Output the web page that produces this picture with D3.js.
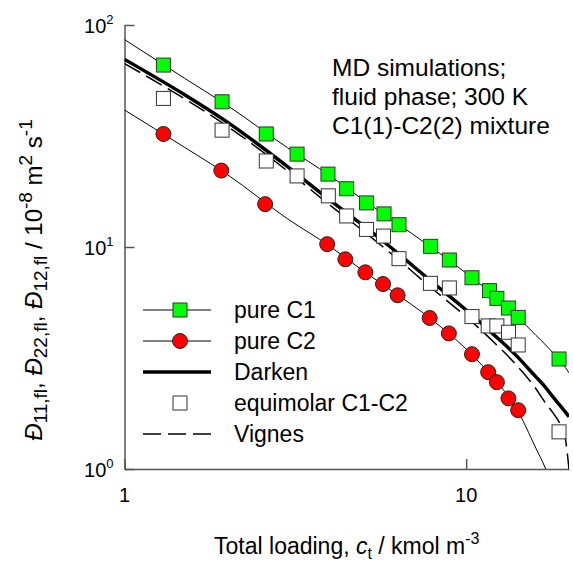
<!DOCTYPE html>
<html>
<head>
<meta charset="utf-8">
<script src="https://cdn.jsdelivr.net/npm/d3@7"></script>
<style>
  body { margin: 0; background: #fff; }
  text { font-family: 'Liberation Sans', Arial, sans-serif; fill: #000; }
</style>
</head>
<body>
<div id="chart"></div>
<script>
// MD data
var loadingC1 = [1.3, 1.93, 2.6, 3.2, 3.94, 4.47, 5.11, 5.75, 6.36, 7.87, 8.93, 10.4, 11.7, 12.3, 13.3, 14.2, 18.7];
var pureC1 = [66, 45.1, 32.3, 26.2, 21.3, 18.3, 15.8, 14.1, 12.6, 10.07, 8.74, 7.27, 6.36, 5.87, 5.31, 4.82, 3.13];

var loadingC2 = [1.3, 1.92, 2.58, 3.92, 4.43, 5.07, 5.71, 6.3, 7.82, 8.9, 10.4, 11.6, 12.3, 13.3, 14.2];
var pureC2 = [32.3, 22.1, 15.6, 10.3, 8.8, 7.69, 6.81, 6.06, 4.79, 4.08, 3.29, 2.73, 2.46, 2.08, 1.84];

var loadingMix = [1.3, 1.93, 2.6, 3.2, 3.95, 4.47, 5.11, 5.73, 6.36, 7.86, 8.93, 10.4, 11.6, 12.3, 13.3, 14.2, 18.7];
var equimolar = [46.7, 33.6, 24.4, 20.9, 17.0, 13.8, 12.0, 11.2, 8.86, 6.86, 6.54, 4.86, 4.41, 4.41, 4.13, 3.62, 1.47];

// Model curves, sampled off the figure
var curveLoading = [1, 1.5, 2, 3, 4, 5, 6, 8, 10, 12, 14, 16, 17, 18, 19, 19.5, 20];
var fitC1 = [86, 57.5, 43.4, 28, 20.9, 16.3, 13.4, 9.85, 7.62, 6.1, 4.93, 4.0, 3.65, 3.32, 3.02, 2.87, 2.71];
var fitC2 = [41.4, 28.1, 21.2, 13.4, 10.05, 7.8, 6.42, 4.66, 3.47, 2.57, 1.89, 1.24, 1.02, 0.8, 0.6, 0.5, 0.4];
var darken = [70, 48.5, 36.5, 23, 16.2, 12.5, 10, 6.9, 5.2, 4.05, 3.25, 2.6, 2.35, 2.1, 1.9, 1.81, 1.72];
var vignes = [67, 46.5, 35, 22, 15.4, 11.8, 9.4, 6.45, 4.85, 3.75, 2.95, 2.3, 2.0, 1.78, 1.55, 1.38, 1.0];

var xTicks = [1, 10];
var yTicks = [1, 10, 100];

var width = 573,
  height = 573;

var margin = { top: 25, right: 4, bottom: 104, left: 124.5 };

var svg = d3.select('#chart')
  .append('svg')
  .attr('width', width)
  .attr('height', height);

var xScale = d3.scaleLog()
  .domain([1, 20])
  .range([margin.left, width - margin.right]);

var yScale = d3.scaleLog()
  .domain([1, 100])
  .range([height - margin.bottom, margin.top]);

var axisColor = '#555';

// minor ticks: every integer inside each decade
var xMinor = [2, 3, 4, 5, 6, 7, 8, 9, 20];
var yMinor = [];
[1, 10].forEach(function(dec) {
  for (var k = 2; k <= 9; k++) yMinor.push(dec * k);
});

var gx = svg.append('g')
  .attr('transform', 'translate(0,' + (height - margin.bottom) + ')');
gx.call(d3.axisBottom(xScale).tickValues(xMinor).tickSize(-7).tickSizeOuter(0).tickFormat(''));
gx.call(d3.axisBottom(xScale).tickValues(xTicks).tickSize(-10).tickSizeOuter(0).tickFormat(''));
gx.selectAll('path, line').attr('stroke', axisColor).attr('stroke-width', 1.5);

gx.selectAll('.xlab')
  .data(xTicks)
  .enter()
  .append('text')
  .attr('x', function(d) { return xScale(d); })
  .attr('y', 33)
  .attr('text-anchor', 'middle')
  .style('font-size', '20px')
  .text(function(d) { return d; });

var gy = svg.append('g')
  .attr('transform', 'translate(' + margin.left + ',0)');
gy.call(d3.axisLeft(yScale).tickValues(yMinor).tickSize(-8).tickSizeOuter(0).tickFormat(''));
gy.call(d3.axisLeft(yScale).tickValues(yTicks).tickSize(-10).tickSizeOuter(0).tickFormat(''));
gy.selectAll('path, line').attr('stroke', axisColor).attr('stroke-width', 1.5);

var ylab = gy.selectAll('.ylab')
  .data(yTicks)
  .enter()
  .append('text')
  .attr('x', -11)
  .attr('y', function(d) { return yScale(d) + 8; })
  .attr('text-anchor', 'end')
  .style('font-size', '20px');
ylab.append('tspan').text('10');
ylab.append('tspan')
  .attr('dy', -9)
  .style('font-size', '13px')
  .text(function(d) { return Math.round(Math.log10(d)); });

// clip the curves to the plot area
svg.append('clipPath')
  .attr('id', 'plot')
  .append('rect')
  .attr('x', margin.left)
  .attr('y', margin.top)
  .attr('width', width - margin.left - margin.right)
  .attr('height', height - margin.top - margin.bottom);

var plot = svg.append('g').attr('clip-path', 'url(#plot)');

var line = d3.line()
  .x(function(d) { return xScale(d[0]); })
  .y(function(d) { return yScale(d[1]); })
  .curve(d3.curveMonotoneX);

function pairs(xs, ys) {
  return xs.map(function(v, i) { return [v, ys[i]]; });
}

var curves = [
  { values: fitC1, width: 1, dash: null },
  { values: fitC2, width: 1, dash: null },
  { values: darken, width: 3.5, dash: null },
  { values: vignes, width: 1.5, dash: '18,7' }
];

plot.selectAll('.curve')
  .data(curves)
  .enter()
  .append('path')
  .attr('fill', 'none')
  .attr('stroke', '#000')
  .attr('stroke-width', function(d) { return d.width; })
  .attr('stroke-dasharray', function(d) { return d.dash; })
  .attr('d', function(d) { return line(pairs(curveLoading, d.values)); });

var side = 14;

// equimolar squares
svg.append('g').selectAll('rect')
  .data(pairs(loadingMix, equimolar))
  .enter()
  .append('rect')
  .attr('x', function(d) { return xScale(d[0]) - side / 2; })
  .attr('y', function(d) { return yScale(d[1]) - side / 2; })
  .attr('width', side)
  .attr('height', side)
  .attr('fill', '#fff')
  .attr('stroke', '#333')
  .attr('stroke-width', 1);

// pure C1 squares
svg.append('g').selectAll('rect')
  .data(pairs(loadingC1, pureC1))
  .enter()
  .append('rect')
  .attr('x', function(d) { return xScale(d[0]) - side / 2; })
  .attr('y', function(d) { return yScale(d[1]) - side / 2; })
  .attr('width', side)
  .attr('height', side)
  .attr('fill', '#00ff00')
  .attr('stroke', '#333')
  .attr('stroke-width', 1);

// pure C2 circles
svg.append('g').selectAll('circle')
  .data(pairs(loadingC2, pureC2))
  .enter()
  .append('circle')
  .attr('cx', function(d) { return xScale(d[0]); })
  .attr('cy', function(d) { return yScale(d[1]); })
  .attr('r', 7.5)
  .attr('fill', '#ff0000')
  .attr('stroke', '#222')
  .attr('stroke-width', 1);

// Legend
var legendItems = [
  { label: 'pure C1', line: 1, dash: null, mark: 'square', fill: '#00ff00' },
  { label: 'pure C2', line: 1, dash: null, mark: 'circle', fill: '#ff0000' },
  { label: 'Darken', line: 3.5, dash: null, mark: null },
  { label: 'equimolar C1-C2', line: 0, dash: null, mark: 'square', fill: '#fff' },
  { label: 'Vignes', line: 1.5, dash: '18,7', mark: null }
];

var legend = svg.selectAll('.legend')
  .data(legendItems)
  .enter()
  .append('g')
  .attr('transform', function(d, i) {
    return 'translate(180,' + (310 + i * 31) + ')';
  });

legend.filter(function(d) { return d.line > 0; })
  .append('line')
  .attr('x1', -37)
  .attr('x2', 31)
  .attr('stroke', '#000')
  .attr('stroke-width', function(d) { return d.line; })
  .attr('stroke-dasharray', function(d) { return d.dash; });

legend.filter(function(d) { return d.mark === 'square'; })
  .append('rect')
  .attr('x', -side / 2)
  .attr('y', -side / 2)
  .attr('width', side)
  .attr('height', side)
  .attr('fill', function(d) { return d.fill; })
  .attr('stroke', '#333');

legend.filter(function(d) { return d.mark === 'circle'; })
  .append('circle')
  .attr('r', 7.5)
  .attr('fill', function(d) { return d.fill; })
  .attr('stroke', '#222');

legend.append('text')
  .attr('x', 54)
  .attr('y', 8)
  .style('font-size', '23px')
  .text(function(d) { return d.label; });

// Annotation
var note = ['MD simulations;', 'fluid phase; 300 K', 'C1(1)-C2(2) mixture'];
svg.selectAll('.note')
  .data(note)
  .enter()
  .append('text')
  .attr('x', 332)
  .attr('y', function(d, i) { return 76 + i * 29; })
  .style('font-size', '24.5px')
  .text(function(d) { return d; });

// x-axis title
var xt = svg.append('text')
  .attr('x', (margin.left + width - margin.right) / 2)
  .attr('y', 554)
  .attr('text-anchor', 'middle')
  .style('font-size', '23px');
xt.append('tspan').text('Total loading, ');
xt.append('tspan').style('font-style', 'italic').text('c');
xt.append('tspan').attr('dy', 5).style('font-size', '16px').text('t');
xt.append('tspan').attr('dy', -5).text(' / kmol m');
xt.append('tspan').attr('dy', -10).style('font-size', '16px').text('-3');

// y-axis title
var yt = svg.append('text')
  .attr('transform', 'translate(42,280) rotate(-90)')
  .attr('text-anchor', 'middle')
  .style('font-size', '24px');

var parts = [
  ['Đ', 'i'], ['11,fl', 'sub'], [', ', 'n'],
  ['Đ', 'i'], ['22,fl', 'sub'], [', ', 'n'],
  ['Đ', 'i'], ['12,fl', 'sub'], [' / 10', 'n'],
  ['-8', 'sup'], [' m', 'n'], ['2', 'sup'], [' s', 'n'], ['-1', 'sup']
];
var level = 0;
parts.forEach(function(p) {
  var target = p[1] === 'sub' ? 5 : (p[1] === 'sup' ? -10 : 0);
  var ts = yt.append('tspan').attr('dy', target - level).text(p[0]);
  level = target;
  if (p[1] === 'i') ts.style('font-style', 'italic');
  if (p[1] === 'sub' || p[1] === 'sup') ts.style('font-size', '19px');
});
</script>
</body>
</html>
